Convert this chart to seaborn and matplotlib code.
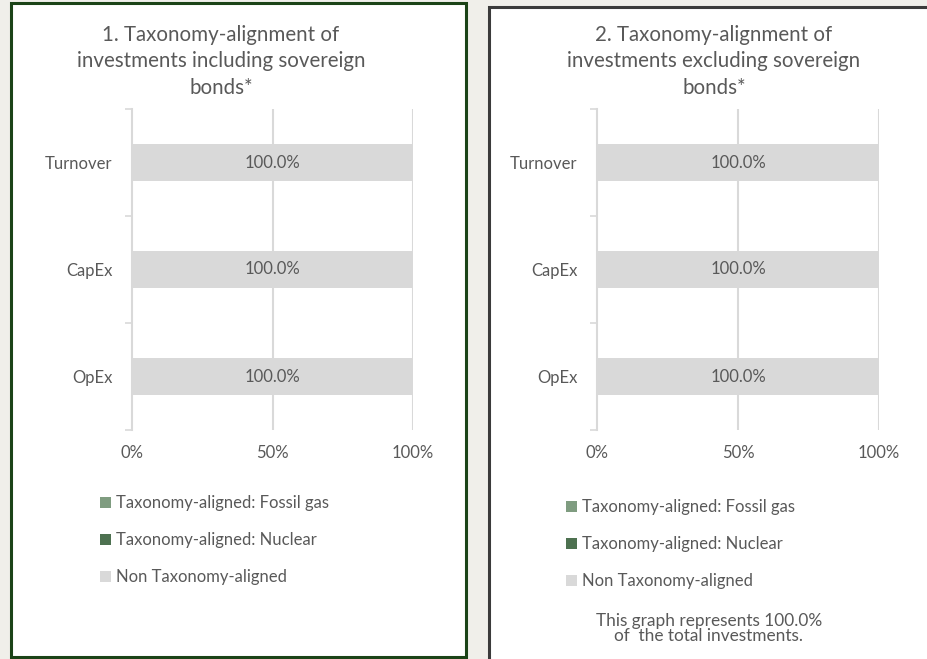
import pandas as pd
import numpy as np
import matplotlib.pyplot as plt
import seaborn as sns
from matplotlib.patches import Rectangle, Patch

# chart data
categories = ['Turnover', 'CapEx', 'OpEx']
series_names = ['Taxonomy-aligned: Fossil gas', 'Taxonomy-aligned: Nuclear', 'Non Taxonomy-aligned']
incl_fossil = [0.0, 0.0, 0.0]
incl_nuclear = [0.0, 0.0, 0.0]
incl_non = [100.0, 100.0, 100.0]
excl_fossil = [0.0, 0.0, 0.0]
excl_nuclear = [0.0, 0.0, 0.0]
excl_non = [100.0, 100.0, 100.0]
titles = ['1. Taxonomy-alignment of\ninvestments including sovereign\nbonds*',
          '2. Taxonomy-alignment of\ninvestments excluding sovereign\nbonds*']
xticks = [0, 50, 100]
xtick_labels = ['0%', '50%', '100%']
share_of_total = 100.0

colors = ['#7f9c80', '#4d7150', '#d9d9d9']
text_col = '#595959'
grid_col = '#d9d9d9'

sns.set_style('white')
plt.rcParams['font.family'] = ['Lato', 'DejaVu Sans']

W, H = 927, 659
fig = plt.figure(figsize=(W / 100, H / 100), dpi=100)
fig.patch.set_facecolor('#f0efea')


def fx(x):
    return x / W


def fy(y):
    return 1 - y / H


# panel boxes (behind the axes)
fig.patches.append(Rectangle((fx(11), fy(657)), fx(455), 654 / H, transform=fig.transFigure,
                             facecolor='white', edgecolor='#1b4317', linewidth=2.2, zorder=-5))
fig.patches.append(Rectangle((fx(489), fy(680)), fx(470), 673 / H, transform=fig.transFigure,
                             facecolor='white', edgecolor='#3b3b3b', linewidth=2.2, zorder=-5))


def draw_panel(ax, fossil, nuclear, non, title, title_x, leg_x, leg_y):
    df = pd.DataFrame({'cat': categories, 'fossil': fossil, 'nuclear': nuclear, 'non': non})
    df['total'] = df['fossil'] + df['nuclear'] + df['non']
    df['fn'] = df['fossil'] + df['nuclear']
    sns.barplot(data=df, x='total', y='cat', orient='h', color=colors[2], saturation=1,
                width=0.34, linewidth=0, ax=ax, zorder=2)
    sns.barplot(data=df, x='fn', y='cat', orient='h', color=colors[1], saturation=1,
                width=0.34, linewidth=0, ax=ax, zorder=2)
    sns.barplot(data=df, x='fossil', y='cat', orient='h', color=colors[0], saturation=1,
                width=0.34, linewidth=0, ax=ax, zorder=2)
    # label the non-aligned segment at its centre
    for i, row in df.iterrows():
        ax.text(row['fn'] + row['non'] / 2, i, f"{row['non']:.1f}%", ha='center', va='center',
                fontsize=12, color=text_col, zorder=3)
    ax.set_xlim(0, 100)
    ax.set_ylim(2.5, -0.5)
    ax.set_xlabel('')
    ax.set_ylabel('')
    ax.set_facecolor('none')
    ax.set_xticks(xticks)
    ax.set_xticklabels(xtick_labels)
    ax.tick_params(axis='x', length=0, pad=11, labelsize=12, labelcolor=text_col)
    ax.tick_params(axis='y', which='major', length=0, pad=14, labelsize=12, labelcolor=text_col)
    # small category-boundary ticks like the Excel original
    ax.set_yticks([-0.5, 0.5, 1.5, 2.5], minor=True)
    ax.tick_params(axis='y', which='minor', left=True, length=5, width=1.2, color=grid_col)
    for x in xticks[1:]:
        ax.axvline(x, color=grid_col, linewidth=1.5, zorder=1)
    for s in ['top', 'right', 'bottom']:
        ax.spines[s].set_visible(False)
    ax.spines['left'].set_color(grid_col)
    ax.spines['left'].set_linewidth(1.5)
    fig.text(fx(title_x), fy(25), title, ha='center', va='top', fontsize=14.8,
             color=text_col, linespacing=1.4)
    handles = [Patch(facecolor=c, edgecolor='none') for c in colors]
    fig.legend(handles, series_names, loc='upper left',
               bbox_to_anchor=(fx(leg_x), fy(leg_y)), bbox_transform=fig.transFigure,
               frameon=False, fontsize=12, labelcolor=text_col, handlelength=0.65,
               handleheight=0.65, handletextpad=0.3, labelspacing=1.27,
               borderpad=0, borderaxespad=0)


ax1 = fig.add_axes([fx(132), fy(430), fx(281), 321 / H])
ax2 = fig.add_axes([fx(597), fy(430), fx(282), 321 / H])
draw_panel(ax1, incl_fossil, incl_nuclear, incl_non, titles[0], 221, 100, 495)
draw_panel(ax2, excl_fossil, excl_nuclear, excl_non, titles[1], 714, 566, 499)

fig.text(fx(709), fy(613), f'This graph represents {share_of_total:.1f}%\nof  the total investments.',
         ha='center', va='top', fontsize=12.4, color=text_col, linespacing=0.95)

fig.savefig('out.png', dpi=100, facecolor=fig.get_facecolor())
